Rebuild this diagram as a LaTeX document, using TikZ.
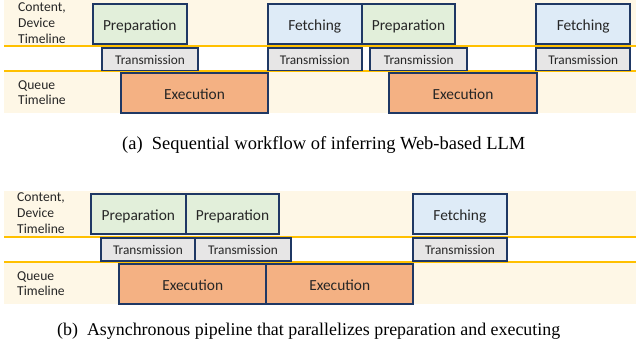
\documentclass[tikz,border=0pt]{standalone}
\usepackage{fontspec}
\usepackage{graphicx}
\setmainfont{Liberation Serif}
\newfontfamily\boxfont{Carlito}
\definecolor{cream}{HTML}{FEF7E6}
\definecolor{rule}{HTML}{FFC000}
\definecolor{edge}{HTML}{1F3864}
\definecolor{prepfill}{HTML}{E2EFDA}
\definecolor{fetchfill}{HTML}{DEEBF7}
\definecolor{transfill}{HTML}{E7E6E6}
\definecolor{execfill}{HTML}{F4B183}
\newcommand{\captext}[2]{\resizebox{#1}{!}{\fontsize{18}{21}\selectfont #2}}
\tikzset{
  block/.style={draw=edge, line width=1.8pt, inner sep=0pt, text height=12.4pt, text depth=0pt,
    font=\boxfont\fontsize{15.4}{17}\selectfont, text=black!85},
  prepbox/.style={block, fill=prepfill, minimum height=40},
  fetchbox/.style={block, fill=fetchfill, minimum height=40},
  execbox/.style={block, fill=execfill, minimum height=40},
  transbox/.style={block, fill=transfill, minimum height=22.5, text height=9.4pt,
    font=\boxfont\fontsize{13.3}{15}\selectfont},
  lanelabel/.style={anchor=west, align=left, inner sep=0pt, font=\boxfont\fontsize{13.6}{16}\selectfont, text=black!85},
  timerule/.style={draw=rule, line width=2pt},
  caption/.style={inner sep=0pt, anchor=west}
}
\begin{document}
\begin{tikzpicture}[x=1pt, y=-1pt]
\useasboundingbox (0,0) rectangle (636,354);
\fill[white] (0,0) rectangle (636,354);

% ---- lanes, sequential workflow
\fill[cream] (4,0) rectangle (636,45);
\fill[cream] (4,72) rectangle (636,113);
\draw[timerule] (4,46) -- (636,46);
\draw[timerule] (4,71) -- (636,71);
\node[lanelabel] (labA1) at (18,23) {Content,\\Device\\Timeline};
\node[lanelabel, font=\boxfont\fontsize{13.6}{15}\selectfont] (labA2) at (18,92.5) {Queue\\Timeline};

% ---- blocks, sequential workflow
\node[prepbox, minimum width=94] (prepA1) at (139.7,24) {Preparation};
\node[transbox, minimum width=96.6] (transA1) at (150,59.3) {Transmission};
\node[execbox, minimum width=147.6] (execA1) at (194.5,93) {Execution};
\node[fetchbox, minimum width=94] (fetchA1) at (314.7,24) {Fetching};
\node[transbox, minimum width=94] (transA2) at (314.7,59.3) {Transmission};
\node[prepbox, minimum width=93.6] (prepA2) at (408.5,24) {Preparation};
\node[transbox, minimum width=96.7] (transA3) at (418.7,59.3) {Transmission};
\node[execbox, minimum width=147.4] (execA2) at (463,93) {Execution};
\node[fetchbox, minimum width=94.3] (fetchA2) at (583.2,24) {Fetching};
\node[transbox, minimum width=94.3] (transA4) at (583.2,59.3) {Transmission};

\node[caption] (capA) at (122,145) {\captext{403pt}{(a)\enspace Sequential workflow of inferring Web-based LLM}};

% ---- lanes, asynchronous pipeline
\fill[cream] (4,191) rectangle (636,236);
\fill[cream] (4,262.5) rectangle (636,304);
\draw[timerule] (4,237) -- (636,237);
\draw[timerule] (4,261.5) -- (636,261.5);
\node[lanelabel] (labB1) at (17,213) {Content,\\Device\\Timeline};
\node[lanelabel, font=\boxfont\fontsize{13.6}{15}\selectfont] (labB2) at (17,283.5) {Queue\\Timeline};

% ---- blocks, asynchronous pipeline
\node[prepbox, minimum width=94.7] (prepB1) at (138.3,214.3) {Preparation};
\node[prepbox, minimum width=93.6] (prepB2) at (232.5,214.3) {Preparation};
\node[transbox, minimum width=94.3] (transB1) at (147.9,249.5) {Transmission};
\node[transbox, minimum width=96] (transB2) at (243,249.5) {Transmission};
\node[execbox, minimum width=146.7] (execB1) at (192.7,284) {Execution};
\node[execbox, minimum width=147.3] (execB2) at (339.7,284) {Execution};
\node[fetchbox, minimum width=94.3] (fetchB) at (459.9,214.3) {Fetching};
\node[transbox, minimum width=94.3] (transB3) at (459.9,249.5) {Transmission};

\node[caption] (capB) at (57,331) {\captext{503pt}{(b)\enspace Asynchronous pipeline that parallelizes preparation and executing}};
\end{tikzpicture}
\end{document}
